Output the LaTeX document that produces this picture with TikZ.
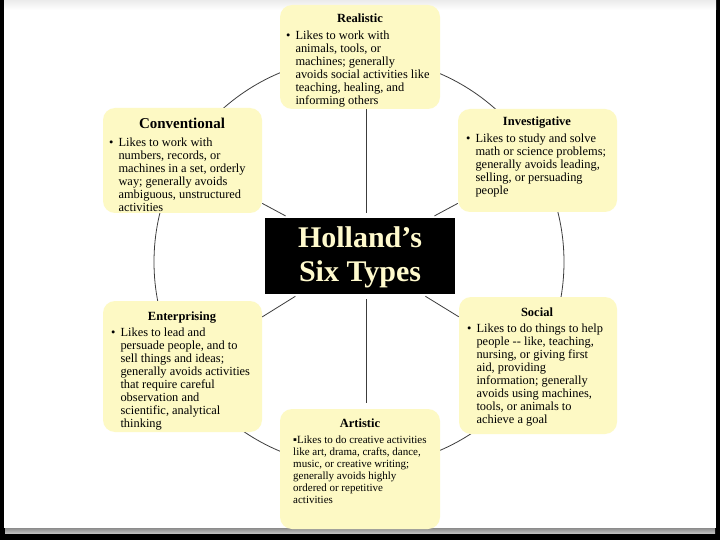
\documentclass[tikz,border=0pt]{standalone}
\usepackage{fontspec}
\setmainfont{Liberation Serif}
\definecolor{boxy}{RGB}{253,249,196}
\definecolor{cream}{RGB}{255,250,205}
\definecolor{linkc}{RGB}{60,60,60}
\newcommand\blist[2][5pt]{\begin{tabular}[t]{@{}l@{\hspace{#1}}l@{}}\textbullet&\begin{tabular}[t]{@{}l@{}}#2\end{tabular}\end{tabular}}
\newcommand\plist[1]{\begin{tabular}[t]{@{}l@{}}#1\end{tabular}}
\begin{document}
\begin{tikzpicture}[x=1pt,y=-1pt,
  ybox/.style={fill=boxy, rounded corners=12pt, inner sep=0pt},
  ttl/.style={font=\fontsize{12.5}{14}\selectfont\bfseries, anchor=base, inner sep=0pt},
  body/.style={font=\fontsize{12.4}{13}\selectfont, anchor=base west, inner sep=0pt},
  link/.style={draw=linkc, line width=0.8pt}]
\useasboundingbox (0,0) rectangle (720,540);
% page
\fill[black] (0,0) rectangle (720,540);
\fill[white] (4,0) rectangle (716,528);
\shade[top color=black!45, bottom color=black!25] (5,528) rectangle (715,533);
\shade[top color=black!8, bottom color=white] (4,0) rectangle (716,10);
% ring
\draw[link] (359,262) circle[radius=205];
% boxes
\node[ybox, minimum width=160pt, minimum height=104pt] (real) at (360,57) {};
\node[ybox, minimum width=159pt, minimum height=105pt] (conv) at (182.5,160.5) {};
\node[ybox, minimum width=159pt, minimum height=103pt] (inv) at (537.5,160.5) {};
\node[fill=black, minimum width=190pt, minimum height=76pt, inner sep=0pt] (ctr) at (360,256) {};
\node[ybox, minimum width=159pt, minimum height=131pt] (ent) at (182.5,366.5) {};
\node[ybox, minimum width=158pt, minimum height=137pt] (soc) at (538,365.5) {};
\node[ybox, minimum width=160pt, minimum height=120pt] (art) at (360,469) {};
% spokes
\draw[link, shorten <=5pt] ([xshift=6pt]ctr.north) -- ([xshift=6pt]real.south);
\draw[link, shorten <=5pt, shorten >=6pt] ([xshift=6pt]ctr.south) -- ([xshift=6pt]art.north);
\draw[link, shorten <=4pt] (ctr) -- (conv);
\draw[link, shorten <=4pt] (ctr) -- (inv);
\draw[link, shorten <=4pt] (ctr) -- (ent);
\draw[link, shorten <=4pt] (ctr) -- (soc);
% centre title
\node[font=\fontsize{30}{34}\selectfont\bfseries, text=cream, align=center, inner sep=0pt] (ctrT) at (360,257) {Holland’s\\Six Types};
% Realistic
\node[ttl] (realT) at (360,23) {Realistic};
\node[body] (realB) at (286,40) {\blist{Likes to work with\\animals, tools, or\\machines; generally\\avoids social activities like\\teaching, healing, and\\informing others}};
% Conventional
\node[ttl, font=\fontsize{15}{17}\selectfont\bfseries] (convT) at (182,129) {Conventional};
\node[body] (convB) at (109,147) {\blist{Likes to work with\\numbers, records, or\\machines in a set, orderly\\way; generally avoids\\ambiguous, unstructured\\activities}};
% Investigative
\node[ttl] (invT) at (537,126) {Investigative};
\node[body] (invB) at (466,143) {\blist{Likes to study and solve\\math or science problems;\\generally avoids leading,\\selling, or persuading\\people}};
% Enterprising
\node[ttl] (entT) at (182,320) {Enterprising};
\node[body] (entB) at (111,336) {\blist{Likes to lead and\\persuade people, and to\\sell things and ideas;\\generally avoids activities\\that require careful\\observation and\\scientific, analytical\\thinking}};
% Social
\node[ttl] (socT) at (537,316) {Social};
\node[body] (socB) at (467,332) {\blist{Likes to do things to help\\people {-}{-} like, teaching,\\nursing, or giving first\\aid, providing\\information; generally\\avoids using machines,\\tools, or animals to\\achieve a goal}};
% Artistic
\node[ttl] (artT) at (360,427) {Artistic};
\node[body, font=\fontsize{11}{12}\selectfont] (artB) at (293,443) {\plist{▪Likes to do creative activities\\like art, drama, crafts, dance,\\music, or creative writing;\\generally avoids highly\\ordered or repetitive\\activities}};
\end{tikzpicture}
\end{document}
